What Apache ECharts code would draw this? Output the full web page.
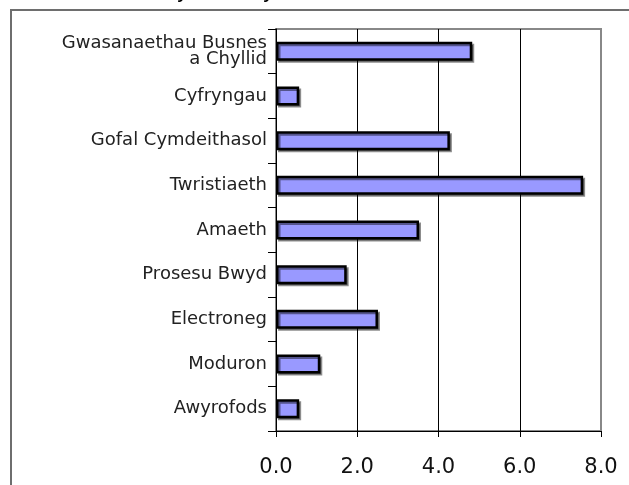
<!DOCTYPE html>
<html>
<head>
<meta charset="utf-8">
<script src="https://cdn.jsdelivr.net/npm/echarts@6/dist/echarts.min.js"></script>
<style>html,body{margin:0;padding:0;background:#fff}#c{width:629px;height:485px}</style>
</head>
<body>
<div id="c"></div>
<script>
const categories = ["Gwasanaethau Busnes\na Chyllid", "Cyfryngau", "Gofal Cymdeithasol", "Twristiaeth", "Amaeth", "Prosesu Bwyd", "Electroneg", "Moduron", "Awyrofods"];
const values = [4.83, 0.57, 4.28, 7.56, 3.52, 1.74, 2.51, 1.09, 0.57];
const xTicks = [0, 2, 4, 6, 8];
const titleText = "Cyfartaledd y Sectorau";

const chart = echarts.init(document.getElementById('c'), null, {renderer: 'canvas'});
chart.setOption({
  animation: false,
  backgroundColor: '#fff',
  graphic: [
    {type: 'rect', shape: {x: 11, y: 10, width: 700, height: 600}, style: {fill: 'none', stroke: '#6e6e6e', lineWidth: 2}, z: -1},
    {type: 'text', x: 165, y: 3, style: {text: titleText, fill: '#000', font: 'bold 17px "Liberation Sans", Arial, sans-serif', align: 'left', verticalAlign: 'bottom'}, z: 5}
  ],
  grid: {left: 276, right: 28, top: 29, bottom: 54, show: true, borderColor: '#888', borderWidth: 2, backgroundColor: '#fff'},
  xAxis: {
    type: 'value', min: xTicks[0], max: xTicks[xTicks.length - 1], interval: 2,
    axisLine: {show: true, lineStyle: {color: '#000', width: 1}},
    axisTick: {show: true, length: 6, lineStyle: {color: '#000'}},
    axisLabel: {formatter: v => v.toFixed(1), color: '#111', fontSize: 21, fontFamily: '"DejaVu Sans", Arial, sans-serif', margin: 26},
    splitLine: {show: true, showMinLine: false, showMaxLine: false, lineStyle: {color: '#000', width: 1}}
  },
  yAxis: {
    type: 'category', data: categories, inverse: true,
    axisLine: {show: true, lineStyle: {color: '#000', width: 1}},
    axisTick: {show: true, length: 8, lineStyle: {color: '#000'}},
    axisLabel: {color: '#222', fontSize: 18, fontFamily: '"DejaVu Sans", Arial, sans-serif', margin: 9, lineHeight: 16, align: 'right'}
  },
  series: [{
    type: 'bar', data: values, barWidth: 19,
    itemStyle: {color: '#9999ff', borderColor: '#000', borderWidth: 2.5, shadowColor: 'rgba(0,0,0,0.45)', shadowOffsetX: 2, shadowOffsetY: 2, shadowBlur: 0}
  }]
});
</script>
</body>
</html>
